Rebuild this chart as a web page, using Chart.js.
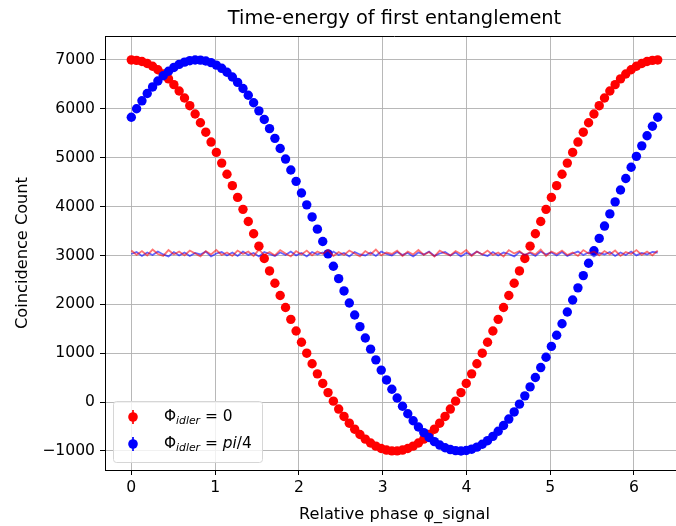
<!DOCTYPE html>
<html>
<head>
<meta charset="utf-8">
<script src="https://cdn.jsdelivr.net/npm/chart.js@4.4.1/dist/chart.umd.min.js"></script>
<style>
  html, body { margin: 0; padding: 0; background: #fff; overflow: hidden; }
  #wrap { width: 700px; height: 526px; }
</style>
</head>
<body>
<div id="wrap"><canvas id="chart" width="700" height="526"></canvas></div>
<script>
// relative phase of the signal photon (radians)
const phase = [
  0.000, 0.063, 0.127, 0.190, 0.254, 0.317, 0.381, 0.444, 0.508, 0.571,
  0.635, 0.698, 0.762, 0.825, 0.889, 0.952, 1.015, 1.079, 1.142, 1.206,
  1.269, 1.333, 1.396, 1.460, 1.523, 1.587, 1.650, 1.714, 1.777, 1.841,
  1.904, 1.967, 2.031, 2.094, 2.158, 2.221, 2.285, 2.348, 2.412, 2.475,
  2.539, 2.602, 2.666, 2.729, 2.793, 2.856, 2.919, 2.983, 3.046, 3.110,
  3.173, 3.237, 3.300, 3.364, 3.427, 3.491, 3.554, 3.618, 3.681, 3.745,
  3.808, 3.871, 3.935, 3.998, 4.062, 4.125, 4.189, 4.252, 4.316, 4.379,
  4.443, 4.506, 4.570, 4.633, 4.697, 4.760, 4.823, 4.887, 4.950, 5.014,
  5.077, 5.141, 5.204, 5.268, 5.331, 5.395, 5.458, 5.522, 5.585, 5.648,
  5.712, 5.775, 5.839, 5.902, 5.966, 6.029, 6.093, 6.156, 6.220, 6.283
];

// coincidences, idler phase = 0
const countsIdler0 = [
  7000, 6992, 6968, 6928, 6872, 6800, 6713, 6612, 6495, 6365,
  6221, 6064, 5895, 5714, 5522, 5320, 5108, 4889, 4662, 4428,
  4188, 3943, 3695, 3443, 3190, 2937, 2683, 2431, 2181, 1934,
  1692, 1455, 1224, 1000, 784, 577, 381, 194, 19, -143,
  -294, -432, -555, -664, -759, -838, -902, -950, -982, -998,
  -998, -982, -950, -902, -838, -759, -664, -555, -432, -294,
  -143, 19, 194, 381, 577, 784, 1000, 1224, 1455, 1692,
  1934, 2181, 2431, 2683, 2937, 3190, 3443, 3695, 3943, 4188,
  4428, 4662, 4889, 5108, 5320, 5522, 5714, 5895, 6064, 6221,
  6365, 6495, 6612, 6713, 6800, 6872, 6928, 6968, 6992, 7000
];

// coincidences, idler phase = pi/4
const countsIdlerPi4 = [
  5828, 6002, 6164, 6313, 6448, 6570, 6677, 6769, 6847, 6909,
  6955, 6985, 6999, 6997, 6979, 6945, 6895, 6829, 6748, 6652,
  6541, 6416, 6277, 6124, 5959, 5783, 5594, 5396, 5189, 4972,
  4748, 4516, 4278, 4035, 3788, 3538, 3285, 3032, 2778, 2525,
  2274, 2026, 1782, 1543, 1310, 1083, 864, 654, 453, 263,
  83, -85, -240, -382, -511, -625, -725, -810, -880, -934,
  -972, -994, -1000, -990, -964, -922, -864, -790, -702, -598,
  -480, -348, -202, -43, 127, 310, 502, 706, 918, 1139,
  1367, 1602, 1843, 2088, 2337, 2588, 2841, 3095, 3349, 3601,
  3850, 4096, 4338, 4575, 4805, 5028, 5242, 5448, 5644, 5828
];

// the flat (non-entangled) runs around 3000
const flatRed = [
  3100, 3010, 3090, 3000, 3120, 3030, 2990, 3110, 3020, 3080,
  3000, 3100, 3040, 2980, 3090, 3020, 3110, 3010, 3060, 2990,
  3100, 3030, 3080, 2990, 3120, 3010, 3070, 3000, 3110, 3040,
  2980, 3090, 3020, 3100, 3000, 3080, 3030, 3110, 2990, 3070,
  3010, 3100, 3040, 2980, 3090, 3020, 3120, 3000, 3060, 3030,
  3100, 2990, 3080, 3020, 3110, 3010, 3070, 2980, 3100, 3040,
  3000, 3090, 3030, 3110, 2990, 3080, 3020, 3100, 3010, 3060,
  2980, 3110, 3040, 3090, 3000, 3070, 3020, 3120, 2990, 3080,
  3030, 3100, 3010, 3060, 2990, 3110, 3040, 3080, 3000, 3090,
  3020, 3100, 2990, 3070, 3030, 3110, 3010, 3080, 3000, 3100
];
const flatBlue = [
  3030, 3070, 2990, 3060, 3010, 3080, 3020, 2980, 3070, 3000,
  3060, 2990, 3050, 3020, 3080, 2980, 3040, 3070, 3000, 3060,
  2990, 3080, 3010, 3050, 2980, 3070, 3030, 2990, 3060, 3010,
  3080, 3000, 3050, 2980, 3070, 3020, 3060, 2990, 3080, 3010,
  3050, 2980, 3070, 3020, 3000, 3060, 2990, 3080, 3030, 3000,
  3070, 3010, 3050, 2980, 3060, 3020, 3080, 2990, 3040, 3070,
  3000, 3060, 2980, 3050, 3010, 3080, 3020, 2990, 3070, 3000,
  3060, 3030, 2980, 3070, 3010, 3050, 2990, 3080, 3020, 3060,
  3000, 3070, 2990, 3040, 3080, 3010, 3060, 2980, 3050, 3020,
  3070, 2990, 3060, 3010, 3080, 3000, 3050, 3020, 3070, 3060
];

const xTicks = [0, 1, 2, 3, 4, 5, 6];
const yTicks = [-1000, 0, 1000, 2000, 3000, 4000, 5000, 6000, 7000];

const FONT = "'DejaVu Sans', sans-serif";
const TICK_PX = 15.6;
const LABEL_PX = 16.2;

function toPoints(ys) {
  return phase.map((x, i) => ({ x: x, y: ys[i] }));
}

// title centred over the axes, plus top/right frame like matplotlib
const framePlugin = {
  id: "frame",
  afterDatasetsDraw(chart) {
    const a = chart.chartArea;
    const ctx = chart.ctx;
    ctx.save();
    ctx.strokeStyle = "#000";
    ctx.lineWidth = 1;
    ctx.beginPath();
    ctx.moveTo(a.left, a.top + 0.5);
    ctx.lineTo(a.right, a.top + 0.5);
    ctx.lineTo(a.right, a.bottom);
    ctx.stroke();

    ctx.fillStyle = "#000";
    ctx.font = "19.4px " + FONT;
    ctx.textAlign = "center";
    ctx.textBaseline = "middle";
    ctx.fillText("Time-energy of first entanglement", (a.left + a.right) / 2, 19);
    ctx.restore();
  }
};

// legend with errorbar markers and subscript text
const legendPlugin = {
  id: "mplLegend",
  afterDraw(chart) {
    const a = chart.chartArea;
    const ctx = chart.ctx;
    const x0 = a.left + 8;
    const y0 = a.bottom - 69;
    const w = 149;
    const h = 61;
    ctx.save();
    ctx.beginPath();
    ctx.roundRect(x0 + 0.5, y0 + 0.5, w, h, 3);
    ctx.fillStyle = "rgba(255,255,255,0.8)";
    ctx.fill();
    ctx.strokeStyle = "#d6d6d6";
    ctx.lineWidth = 1;
    ctx.stroke();

    const entries = [
      { color: "red", tail: [[" = 0", "normal"]] },
      { color: "blue", tail: [[" = ", "normal"], ["pi", "italic"], ["/4", "normal"]] }
    ];
    entries.forEach((e, k) => {
      const cy = y0 + 16 + k * 27;
      const mx = x0 + 20;
      ctx.strokeStyle = e.color;
      ctx.lineWidth = 1.7;
      ctx.beginPath();
      ctx.moveTo(mx, cy - 7);
      ctx.lineTo(mx, cy + 7);
      ctx.stroke();
      ctx.fillStyle = e.color;
      ctx.beginPath();
      ctx.arc(mx, cy, 4.8, 0, Math.PI * 2);
      ctx.fill();

      ctx.fillStyle = "#000";
      ctx.textAlign = "left";
      ctx.textBaseline = "middle";
      let tx = x0 + 51;
      ctx.font = "15.4px " + FONT;
      ctx.fillText("\u03A6", tx, cy);
      tx += ctx.measureText("\u03A6").width;
      ctx.font = "italic 10.8px " + FONT;
      ctx.fillText("idler", tx, cy + 4);
      tx += ctx.measureText("idler").width;
      e.tail.forEach(([s, style]) => {
        ctx.font = (style === "italic" ? "italic " : "") + "15.4px " + FONT;
        ctx.fillText(s, tx, cy);
        tx += ctx.measureText(s).width;
      });
    });
    ctx.restore();
  }
};

new Chart("chart", {
  type: "scatter",
  data: {
    datasets: [
      {
        label: "flat red",
        data: toPoints(flatRed),
        showLine: true,
        borderColor: "rgba(255,0,0,0.55)",
        borderWidth: 1.8,
        pointRadius: 0,
        order: 0
      },
      {
        label: "flat blue",
        data: toPoints(flatBlue),
        showLine: true,
        borderColor: "rgba(0,0,255,0.6)",
        borderWidth: 1.8,
        pointRadius: 0,
        order: 0
      },
      {
        label: "idler 0",
        data: toPoints(countsIdler0),
        backgroundColor: "red",
        borderWidth: 0,
        pointRadius: 4.7,
        order: 2
      },
      {
        label: "idler pi/4",
        data: toPoints(countsIdlerPi4),
        backgroundColor: "blue",
        borderWidth: 0,
        pointRadius: 4.7,
        order: 1
      }
    ]
  },
  options: {
    responsive: false,
    animation: false,
    layout: { padding: { left: 0, top: 36, right: 16, bottom: 0 } },
    plugins: {
      legend: { display: false },
      tooltip: { enabled: false },
      title: { display: false }
    },
    scales: {
      x: {
        type: "linear",
        min: -0.314,
        max: 6.597,
        afterBuildTicks: (s) => { s.ticks = xTicks.map((v) => ({ value: v })); },
        afterFit: (s) => { s.height = 56; },
        ticks: { color: "#000", font: { family: FONT, size: TICK_PX }, padding: 4 },
        grid: { color: "#b0b0b0", lineWidth: 0.9, tickColor: "#000", tickLength: 5, tickWidth: 1 },
        border: { color: "#000", width: 1 },
        title: {
          display: true,
          text: "Relative phase \u03C6_signal",
          color: "#000",
          font: { family: FONT, size: LABEL_PX },
          padding: { top: 0, bottom: 1 }
        }
      },
      y: {
        type: "linear",
        min: -1390,
        max: 7490,
        afterBuildTicks: (s) => { s.ticks = yTicks.map((v) => ({ value: v })); },
        afterFit: (s) => { s.width = 105; },
        ticks: {
          color: "#000",
          font: { family: FONT, size: TICK_PX },
          padding: 5,
          callback: (v) => (v < 0 ? "\u2212" + Math.abs(v) : String(v))
        },
        grid: { color: "#b0b0b0", lineWidth: 0.9, tickColor: "#000", tickLength: 5, tickWidth: 1 },
        border: { color: "#000", width: 1 },
        title: {
          display: true,
          text: "Coincidence Count",
          color: "#000",
          font: { family: FONT, size: LABEL_PX },
          padding: { top: 13, bottom: 0 }
        }
      }
    }
  },
  plugins: [framePlugin, legendPlugin]
});
</script>
</body>
</html>
